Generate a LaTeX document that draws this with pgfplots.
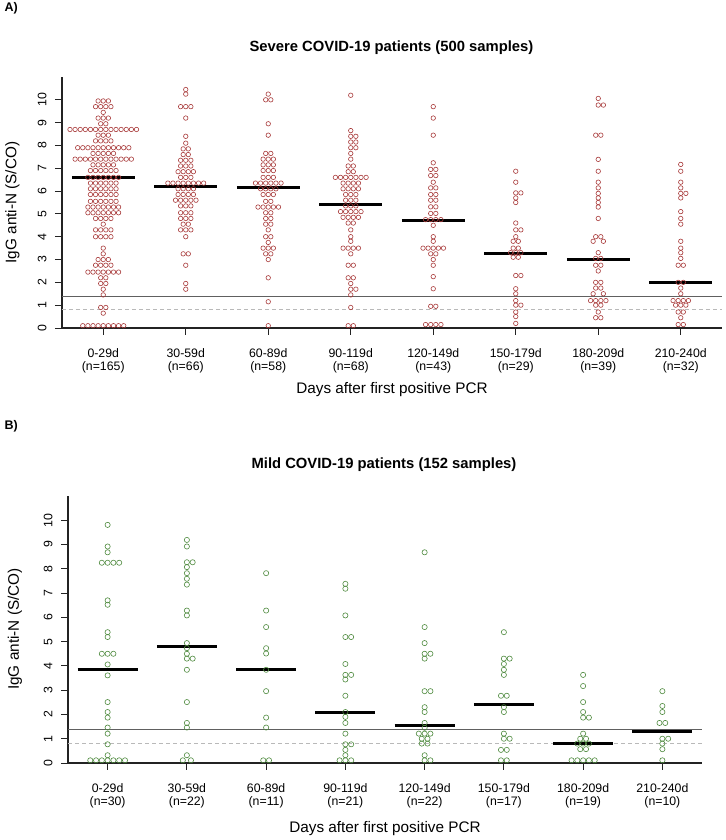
\documentclass[border=0pt]{standalone}
\usepackage{pgfplots}
\pgfplotsset{compat=1.18}
\usepackage{pgfplotstable}
\usepackage{fontspec}
\setmainfont{Liberation Sans}
\definecolor{ptred}{RGB}{168,58,58}
\definecolor{ptgreen}{RGB}{78,138,62}
\definecolor{axcol}{RGB}{35,35,35}

\pgfplotstableread[row sep=\\]{
c k y\\
1 -1 9.95\\ 1 0 9.95\\ 1 1 9.95\\
1 -1.5 9.7\\ 1 -0.5 9.7\\ 1 0.5 9.7\\ 1 1.5 9.7\\
1 0 9.45\\
1 -1 9.2\\ 1 0 9.2\\ 1 1 9.2\\
1 -0.5 8.95\\ 1 0.5 8.95\\
1 -6.5 8.7\\ 1 -5.5 8.7\\ 1 -4.5 8.7\\ 1 -3.5 8.7\\ 1 -2.5 8.7\\ 1 -1.5 8.7\\ 1 -0.5 8.7\\ 1 0.5 8.7\\ 1 1.5 8.7\\ 1 2.5 8.7\\ 1 3.5 8.7\\ 1 4.5 8.7\\ 1 5.5 8.7\\ 1 6.5 8.7\\
1 -1 8.45\\ 1 0 8.45\\ 1 1 8.45\\
1 -1.5 8.2\\ 1 -0.5 8.2\\ 1 0.5 8.2\\ 1 1.5 8.2\\
1 -5 7.9\\ 1 -4 7.9\\ 1 -3 7.9\\ 1 -2 7.9\\ 1 -1 7.9\\ 1 0 7.9\\ 1 1 7.9\\ 1 2 7.9\\ 1 3 7.9\\ 1 4 7.9\\ 1 5 7.9\\
1 -2 7.65\\ 1 -1 7.65\\ 1 0 7.65\\ 1 1 7.65\\ 1 2 7.65\\
1 -5.5 7.4\\ 1 -4.5 7.4\\ 1 -3.5 7.4\\ 1 -2.5 7.4\\ 1 -1.5 7.4\\ 1 -0.5 7.4\\ 1 0.5 7.4\\ 1 1.5 7.4\\ 1 2.5 7.4\\ 1 3.5 7.4\\ 1 4.5 7.4\\ 1 5.5 7.4\\
1 -2 7.15\\ 1 -1 7.15\\ 1 0 7.15\\ 1 1 7.15\\ 1 2 7.15\\
1 -2.5 6.9\\ 1 -1.5 6.9\\ 1 -0.5 6.9\\ 1 0.5 6.9\\ 1 1.5 6.9\\ 1 2.5 6.9\\
1 -3 6.6\\ 1 -2 6.6\\ 1 -1 6.6\\ 1 0 6.6\\ 1 1 6.6\\ 1 2 6.6\\ 1 3 6.6\\
1 -2.5 6.35\\ 1 -1.5 6.35\\ 1 -0.5 6.35\\ 1 0.5 6.35\\ 1 1.5 6.35\\ 1 2.5 6.35\\
1 -2.5 6.1\\ 1 -1.5 6.1\\ 1 -0.5 6.1\\ 1 0.5 6.1\\ 1 1.5 6.1\\ 1 2.5 6.1\\
1 -2.5 5.85\\ 1 -1.5 5.85\\ 1 -0.5 5.85\\ 1 0.5 5.85\\ 1 1.5 5.85\\ 1 2.5 5.85\\
1 -2.5 5.55\\ 1 -1.5 5.55\\ 1 -0.5 5.55\\ 1 0.5 5.55\\ 1 1.5 5.55\\ 1 2.5 5.55\\
1 -3 5.3\\ 1 -2 5.3\\ 1 -1 5.3\\ 1 0 5.3\\ 1 1 5.3\\ 1 2 5.3\\ 1 3 5.3\\
1 -3 5.05\\ 1 -2 5.05\\ 1 -1 5.05\\ 1 0 5.05\\ 1 1 5.05\\ 1 2 5.05\\ 1 3 5.05\\
1 -1.5 4.8\\ 1 -0.5 4.8\\ 1 0.5 4.8\\ 1 1.5 4.8\\
1 0 4.55\\
1 -1.5 4.3\\ 1 -0.5 4.3\\ 1 0.5 4.3\\ 1 1.5 4.3\\
1 -1.5 4.0\\ 1 -0.5 4.0\\ 1 0.5 4.0\\ 1 1.5 4.0\\
1 0 3.5\\ 1 0 3.25\\
1 -1 3.0\\ 1 0 3.0\\ 1 1 3.0\\
1 -1.5 2.75\\ 1 -0.5 2.75\\ 1 0.5 2.75\\ 1 1.5 2.75\\
1 -3 2.45\\ 1 -2 2.45\\ 1 -1 2.45\\ 1 0 2.45\\ 1 1 2.45\\ 1 2 2.45\\ 1 3 2.45\\
1 -0.5 2.2\\ 1 0.5 2.2\\
1 -0.5 1.95\\ 1 0.5 1.95\\
1 0 1.7\\ 1 0 1.45\\
1 -0.5 0.9\\ 1 0.5 0.9\\
1 0 0.65\\
1 -4 0.1\\ 1 -3 0.1\\ 1 -2 0.1\\ 1 -1 0.1\\ 1 0 0.1\\ 1 1 0.1\\ 1 2 0.1\\ 1 3 0.1\\ 1 4 0.1\\
2 0 10.45\\ 2 0 10.25\\
2 -1 9.7\\ 2 0 9.7\\ 2 1 9.7\\
2 0 9.2\\ 2 0 8.4\\ 2 0 8.1\\
2 -0.5 7.85\\ 2 0.5 7.85\\
2 -0.5 7.6\\ 2 0.5 7.6\\
2 -1 7.35\\ 2 0 7.35\\ 2 1 7.35\\
2 -1 7.1\\ 2 0 7.1\\ 2 1 7.1\\
2 -1.5 6.85\\ 2 -0.5 6.85\\ 2 0.5 6.85\\ 2 1.5 6.85\\
2 -1 6.6\\ 2 0 6.6\\ 2 1 6.6\\
2 -3.5 6.35\\ 2 -2.5 6.35\\ 2 -1.5 6.35\\ 2 -0.5 6.35\\ 2 0.5 6.35\\ 2 1.5 6.35\\ 2 2.5 6.35\\ 2 3.5 6.35\\
2 -1.5 6.1\\ 2 -0.5 6.1\\ 2 0.5 6.1\\ 2 1.5 6.1\\
2 -1.5 5.85\\ 2 -0.5 5.85\\ 2 0.5 5.85\\ 2 1.5 5.85\\
2 -2 5.6\\ 2 -1 5.6\\ 2 0 5.6\\ 2 1 5.6\\ 2 2 5.6\\
2 -1 5.35\\ 2 0 5.35\\ 2 1 5.35\\
2 -1 5.05\\ 2 0 5.05\\ 2 1 5.05\\
2 -1 4.8\\ 2 0 4.8\\ 2 1 4.8\\
2 -0.5 4.55\\ 2 0.5 4.55\\
2 -1 4.3\\ 2 0 4.3\\ 2 1 4.3\\
2 0 4.0\\
2 -0.5 3.25\\ 2 0.5 3.25\\
2 0 2.75\\ 2 0 1.95\\ 2 0 1.7\\
3 0 10.25\\ 3 -0.5 10.0\\ 3 0.5 10.0\\
3 0 8.95\\ 3 0 8.45\\
3 -0.5 7.65\\ 3 0.5 7.65\\
3 -1 7.4\\ 3 0 7.4\\ 3 1 7.4\\
3 -1 7.15\\ 3 0 7.15\\ 3 1 7.15\\
3 -1 6.9\\ 3 0 6.9\\ 3 1 6.9\\
3 -1 6.6\\ 3 0 6.6\\ 3 1 6.6\\
3 -2.5 6.35\\ 3 -1.5 6.35\\ 3 -0.5 6.35\\ 3 0.5 6.35\\ 3 1.5 6.35\\ 3 2.5 6.35\\
3 -1.5 6.1\\ 3 -0.5 6.1\\ 3 0.5 6.1\\ 3 1.5 6.1\\
3 -1 5.85\\ 3 0 5.85\\ 3 1 5.85\\
3 -0.5 5.55\\ 3 0.5 5.55\\
3 -2 5.3\\ 3 -1 5.3\\ 3 0 5.3\\ 3 1 5.3\\ 3 2 5.3\\
3 -0.5 5.05\\ 3 0.5 5.05\\
3 -0.5 4.8\\ 3 0.5 4.8\\
3 -0.5 4.55\\ 3 0.5 4.55\\
3 0 4.3\\
3 -0.5 4.0\\ 3 0.5 4.0\\
3 0 3.75\\
3 -1 3.5\\ 3 0 3.5\\ 3 1 3.5\\
3 -0.5 3.25\\ 3 0.5 3.25\\
3 0 3.0\\ 3 0 2.2\\ 3 0 1.15\\ 3 0 0.1\\
4 0 10.2\\ 4 0 8.65\\
4 0 8.4\\ 4 1 8.4\\
4 0 8.15\\ 4 1 8.15\\
4 0 7.9\\ 4 1 7.9\\
4 0 7.65\\ 4 0 7.4\\
4 -0.5 7.1\\ 4 0.5 7.1\\
4 -0.5 6.85\\ 4 0.5 6.85\\
4 -3 6.6\\ 4 -2 6.6\\ 4 -1 6.6\\ 4 0 6.6\\ 4 1 6.6\\ 4 2 6.6\\ 4 3 6.6\\
4 -1.5 6.35\\ 4 -0.5 6.35\\ 4 0.5 6.35\\ 4 1.5 6.35\\
4 -1.5 6.1\\ 4 -0.5 6.1\\ 4 0.5 6.1\\ 4 1.5 6.1\\
4 -1 5.85\\ 4 0 5.85\\ 4 1 5.85\\
4 -1 5.6\\ 4 0 5.6\\ 4 1 5.6\\
4 -1 5.35\\ 4 0 5.35\\ 4 1 5.35\\
4 -2 5.1\\ 4 -1 5.1\\ 4 0 5.1\\ 4 1 5.1\\ 4 2 5.1\\
4 -1.5 4.85\\ 4 -0.5 4.85\\ 4 0.5 4.85\\ 4 1.5 4.85\\
4 -0.5 4.6\\ 4 0.5 4.6\\
4 0 4.3\\ 4 0 4.0\\ 4 0 3.8\\
4 -1.5 3.5\\ 4 -0.5 3.5\\ 4 0.5 3.5\\ 4 1.5 3.5\\
4 0 3.25\\
4 -0.5 2.75\\ 4 0.5 2.75\\
4 -0.5 2.2\\ 4 0.5 2.2\\
4 0 1.95\\
4 0 1.7\\ 4 1 1.7\\
4 0 1.45\\ 4 0 0.9\\
4 -0.5 0.1\\ 4 0.5 0.1\\
5 0 9.7\\ 5 0 9.2\\ 5 0 8.45\\ 5 0 7.24\\
5 -0.5 6.95\\ 5 0.5 6.95\\
5 -0.5 6.68\\ 5 0.5 6.68\\
5 0 6.39\\
5 -0.5 6.14\\ 5 0.5 6.14\\
5 -0.5 5.85\\ 5 0.5 5.85\\
5 -0.5 5.6\\ 5 0.5 5.6\\
5 -0.5 5.31\\ 5 0.5 5.31\\
5 -0.5 5.02\\ 5 0.5 5.02\\
5 -1.5 4.75\\ 5 -0.5 4.75\\ 5 0.5 4.75\\ 5 1.5 4.75\\
5 0 4.5\\ 5 0 4.0\\ 5 0 3.8\\
5 -2 3.5\\ 5 -1 3.5\\ 5 0 3.5\\ 5 1 3.5\\ 5 2 3.5\\
5 -0.5 3.25\\ 5 0.5 3.25\\
5 0 3.0\\ 5 0 2.75\\ 5 0 2.25\\ 5 0 1.72\\
5 -0.5 0.95\\ 5 0.5 0.95\\
5 -1.5 0.15\\ 5 -0.5 0.15\\ 5 0.5 0.15\\ 5 1.5 0.15\\
6 0 6.87\\ 6 0 6.39\\
6 0 5.92\\ 6 1 5.92\\
6 0 5.7\\ 6 0 5.5\\ 6 0 4.6\\
6 0 4.3\\ 6 1 4.3\\
6 0 4.0\\
6 -0.5 3.8\\ 6 0.5 3.8\\
6 -0.5 3.5\\ 6 0.5 3.5\\
6 -1 3.3\\ 6 0 3.3\\ 6 1 3.3\\
6 -0.5 3.1\\ 6 0.5 3.1\\
6 0 2.3\\ 6 1 2.3\\
6 0 1.72\\ 6 0 1.5\\ 6 0 1.2\\
6 0 1.0\\ 6 1 1.0\\
6 0 0.7\\ 6 0 0.5\\ 6 0 0.2\\
7 0 10.06\\
7 0 9.77\\ 7 1 9.77\\
7 -0.5 8.45\\ 7 0.5 8.45\\
7 0 7.39\\ 7 0 6.87\\ 7 0 6.39\\ 7 0 6.14\\ 7 0 5.9\\ 7 0 5.7\\ 7 0 5.5\\ 7 0 5.3\\ 7 0 4.8\\
7 -0.5 4.0\\ 7 0.5 4.0\\
7 -1 3.8\\ 7 1 3.8\\
7 0 3.3\\
7 -0.5 3.05\\ 7 0.5 3.05\\
7 -0.5 2.75\\ 7 0.5 2.75\\
7 0 2.5\\
7 -0.5 2.0\\ 7 0.5 2.0\\
7 -0.5 1.75\\ 7 0.5 1.75\\
7 -1 1.5\\ 7 1 1.5\\
7 -1.5 1.2\\ 7 -0.5 1.2\\ 7 0.5 1.2\\ 7 1.5 1.2\\
7 -0.5 1.0\\ 7 0.5 1.0\\
7 0 0.7\\
7 -0.5 0.45\\ 7 0.5 0.45\\
8 0 7.17\\ 8 0 6.87\\ 8 0 6.39\\ 8 0 6.14\\
8 0 5.9\\ 8 1 5.9\\
8 0 5.7\\ 8 0 5.1\\ 8 0 4.8\\ 8 0 4.55\\ 8 0 3.8\\ 8 0 3.5\\ 8 0 3.3\\ 8 0 3.05\\
8 -0.5 2.75\\ 8 0.5 2.75\\
8 -0.5 2.0\\ 8 0.5 2.0\\
8 0 1.75\\ 8 0 1.5\\
8 -1.5 1.2\\ 8 -0.5 1.2\\ 8 0.5 1.2\\ 8 1.5 1.2\\
8 -1 1.0\\ 8 0 1.0\\ 8 1 1.0\\
8 -0.5 0.7\\ 8 0.5 0.7\\
8 0 0.45\\
8 -0.5 0.15\\ 8 0.5 0.15\\
}\severe

\pgfplotstableread[row sep=\\]{
c k y\\
1 0 9.81\\ 1 0 8.92\\ 1 0 8.68\\
1 -1 8.25\\ 1 0 8.25\\ 1 1 8.25\\ 1 2 8.25\\
1 0 6.7\\ 1 0 6.52\\ 1 0 5.39\\ 1 0 5.19\\
1 -1 4.5\\ 1 0 4.5\\ 1 1 4.5\\
1 0 4.06\\ 1 0 3.61\\ 1 0 2.51\\ 1 0 2.1\\ 1 0 1.87\\ 1 0 1.46\\ 1 0 1.21\\ 1 0 0.77\\ 1 0 0.32\\
1 -3 0.11\\ 1 -2 0.11\\ 1 -1 0.11\\ 1 0 0.11\\ 1 1 0.11\\ 1 2 0.11\\ 1 3 0.11\\
2 0 9.19\\ 2 0 8.92\\
2 0 8.27\\ 2 1 8.27\\
2 0 8.07\\ 2 0 7.82\\ 2 0 7.59\\ 2 0 7.35\\ 2 0 6.28\\ 2 0 6.08\\ 2 0 4.94\\ 2 0 4.73\\ 2 0 4.5\\
2 0 4.3\\ 2 1 4.3\\
2 0 3.84\\ 2 0 2.51\\ 2 0 1.65\\ 2 0 1.46\\ 2 0 0.32\\
2 -0.7 0.11\\ 2 0.7 0.11\\
3 0 7.82\\ 3 0 6.28\\ 3 0 5.6\\ 3 0 4.73\\ 3 0 4.51\\ 3 0 3.84\\ 3 0 2.96\\ 3 0 1.87\\ 3 0 1.46\\
3 -0.5 0.11\\ 3 0.5 0.11\\
4 0 7.38\\ 4 0 7.18\\ 4 0 6.08\\
4 0 5.19\\ 4 1 5.19\\
4 0 4.08\\
4 0 3.63\\ 4 1 3.63\\
4 0 3.44\\ 4 0 2.77\\ 4 0 2.1\\ 4 0 1.9\\ 4 0 1.65\\ 4 0 1.21\\
4 0 0.77\\ 4 1 0.77\\
4 0 0.54\\ 4 0 0.32\\
4 -1 0.11\\ 4 0 0.11\\ 4 1 0.11\\
5 0 8.68\\ 5 0 5.6\\ 5 0 4.94\\
5 0 4.5\\ 5 1 4.5\\
5 0 4.3\\
5 0 2.96\\ 5 1 2.96\\
5 0 2.3\\ 5 0 2.1\\ 5 0 1.65\\ 5 0 1.45\\
5 -1 1.21\\ 5 0 1.21\\ 5 1 1.21\\
5 -0.5 1.0\\ 5 0.5 1.0\\
5 -0.5 0.8\\ 5 0.5 0.8\\
5 0 0.32\\
5 0 0.11\\ 5 1 0.11\\
6 0 5.39\\
6 0 4.3\\ 6 1 4.3\\
6 0 4.08\\ 6 0 3.84\\ 6 0 3.63\\
6 -0.5 2.77\\ 6 0.5 2.77\\
6 0 2.3\\ 6 0 2.1\\ 6 0 1.21\\
6 0 1.0\\ 6 1 1.0\\
6 -0.5 0.54\\ 6 0.5 0.54\\
6 -0.5 0.11\\ 6 0.5 0.11\\
7 0 3.63\\ 7 0 3.17\\ 7 0 2.51\\ 7 0 2.1\\
7 0 1.87\\ 7 1 1.87\\
7 0 1.21\\
7 -0.5 1.0\\ 7 0.5 1.0\\
7 -1 0.8\\ 7 0 0.8\\ 7 1 0.8\\
7 -0.5 0.57\\ 7 0.5 0.57\\
7 -2 0.11\\ 7 -1 0.11\\ 7 0 0.11\\ 7 1 0.11\\ 7 2 0.11\\
8 0 2.96\\ 8 0 2.35\\ 8 0 2.1\\
8 -0.5 1.65\\ 8 0.5 1.65\\
8 0 1.0\\ 8 1 1.0\\
8 0 0.8\\ 8 0 0.57\\ 8 0 0.11\\
}\mild

\pgfplotsset{beeaxis/.style={
  scale only axis,
  xmin=0.5, xmax=8.5, ymin=0, ymax=11,
  axis lines=left,
  axis line style={-, line width=1.6pt, draw=axcol},
  xtick={1,...,8}, ytick={0,...,10},
  tick align=outside, major tick length=7pt,
  tick style={line width=0.9pt, draw=axcol},
  /pgf/number format/assume math mode=true,
  tick label style={font=\fontsize{12.3}{13.3}\selectfont, text=black},
  yticklabel style={rotate=90, anchor=south},
  xticklabel style={align=center, anchor=north},
  xticklabel shift=10pt,
  yticklabel shift=5pt,
}}

\begin{document}
\begin{tikzpicture}
\path[use as bounding box] (0,0) rectangle (725pt,840pt);

% ---------- Panel A ----------
\begin{axis}[beeaxis, at={(62pt,512pt)}, anchor=south west, width=660pt, height=251pt,
  xticklabels={{0-29d\\(n=165)},{30-59d\\(n=66)},{60-89d\\(n=58)},{90-119d\\(n=68)},{120-149d\\(n=43)},{150-179d\\(n=29)},{180-209d\\(n=39)},{210-240d\\(n=32)}}]
\addplot[gray!75!black, line width=0.9pt] coordinates {(0.5,1.4) (8.5,1.4)};
\addplot[gray!55, line width=0.7pt, dash pattern=on 4pt off 3pt] coordinates {(0.5,0.8) (8.5,0.8)};
\addplot[only marks, mark=o, ptred, mark size=2.25pt, line width=0.6pt]
  table[x expr=\thisrow{c}+0.062*\thisrow{k}, y=y] {\severe};
\addplot[black, line width=3pt] coordinates {(0.62,6.6) (1.38,6.6)};
\addplot[black, line width=3pt] coordinates {(1.62,6.2) (2.38,6.2)};
\addplot[black, line width=3pt] coordinates {(2.62,6.15) (3.38,6.15)};
\addplot[black, line width=3pt] coordinates {(3.62,5.42) (4.38,5.42)};
\addplot[black, line width=3pt] coordinates {(4.62,4.7) (5.38,4.7)};
\addplot[black, line width=3pt] coordinates {(5.62,3.28) (6.38,3.28)};
\addplot[black, line width=3pt] coordinates {(6.62,3.01) (7.38,3.01)};
\addplot[black, line width=3pt] coordinates {(7.62,2.01) (8.38,2.01)};
\end{axis}

% ---------- Panel B ----------
\begin{axis}[beeaxis, at={(68pt,77pt)}, anchor=south west, width=634pt, height=267pt,
  xticklabels={{0-29d\\(n=30)},{30-59d\\(n=22)},{60-89d\\(n=11)},{90-119d\\(n=21)},{120-149d\\(n=22)},{150-179d\\(n=17)},{180-209d\\(n=19)},{210-240d\\(n=10)}}]
\addplot[gray!75!black, line width=0.9pt] coordinates {(0.5,1.4) (8.5,1.4)};
\addplot[gray!55, line width=0.7pt, dash pattern=on 4pt off 3pt] coordinates {(0.5,0.8) (8.5,0.8)};
\addplot[only marks, mark=o, ptgreen, mark size=2.6pt, line width=0.6pt]
  table[x expr=\thisrow{c}+0.073*\thisrow{k}, y=y] {\mild};
\addplot[black, line width=3pt] coordinates {(0.62,3.87) (1.38,3.87)};
\addplot[black, line width=3pt] coordinates {(1.62,4.8) (2.38,4.8)};
\addplot[black, line width=3pt] coordinates {(2.62,3.84) (3.38,3.84)};
\addplot[black, line width=3pt] coordinates {(3.62,2.1) (4.38,2.1)};
\addplot[black, line width=3pt] coordinates {(4.62,1.54) (5.38,1.54)};
\addplot[black, line width=3pt] coordinates {(5.62,2.42) (6.38,2.42)};
\addplot[black, line width=3pt] coordinates {(6.62,0.8) (7.38,0.8)};
\addplot[black, line width=3pt] coordinates {(7.62,1.28) (8.38,1.28)};
\end{axis}

% ---------- Texts ----------
\node[anchor=west, font=\bfseries\fontsize{12.5}{14}\selectfont] at (1pt,832pt) {A)};
\node[font=\bfseries\fontsize{14.8}{17}\selectfont] at (391.5pt,792pt) {Severe COVID-19 patients (500 samples)};
\node[font=\fontsize{15.3}{18}\selectfont] at (392pt,450pt) {Days after first positive PCR};
\node[rotate=90, font=\fontsize{15.3}{18}\selectfont] at (12.5pt,637.5pt) {IgG anti-N (S/CO)};

\node[anchor=west, font=\bfseries\fontsize{12.5}{14}\selectfont] at (1pt,414pt) {B)};
\node[font=\bfseries\fontsize{14.8}{17}\selectfont] at (384pt,375pt) {Mild COVID-19 patients (152 samples)};
\node[font=\fontsize{15.3}{18}\selectfont] at (385pt,11.7pt) {Days after first positive PCR};
\node[rotate=90, font=\fontsize{15.3}{18}\selectfont] at (15pt,211pt) {IgG anti-N (S/CO)};
\end{tikzpicture}
\end{document}
